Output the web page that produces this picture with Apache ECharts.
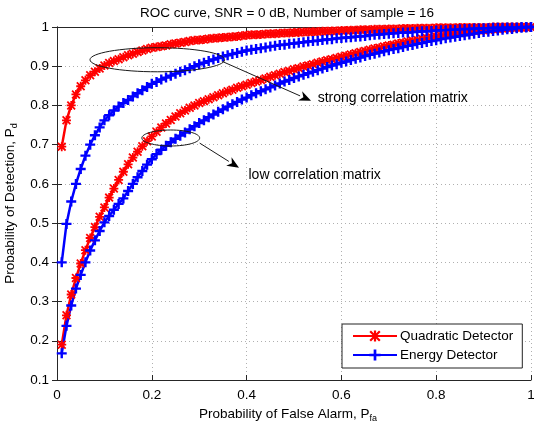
<!DOCTYPE html>
<html>
<head>
<meta charset="utf-8">
<script src="https://cdn.jsdelivr.net/npm/echarts@6/dist/echarts.min.js"></script>
<style>
html,body{margin:0;padding:0;background:#fff;}
#chart{width:534px;height:425px;}
</style>
</head>
<body>
<div id="chart"></div>
<script>
// ---------- data ----------
const pfa = [0.01,0.02,0.03,0.04,0.05,0.06,0.07,0.08,0.09,0.10,
0.11,0.12,0.13,0.14,0.15,0.16,0.17,0.18,0.19,0.20,
0.21,0.22,0.23,0.24,0.25,0.26,0.27,0.28,0.29,0.30,
0.31,0.32,0.33,0.34,0.35,0.36,0.37,0.38,0.39,0.40,
0.41,0.42,0.43,0.44,0.45,0.46,0.47,0.48,0.49,0.50,
0.51,0.52,0.53,0.54,0.55,0.56,0.57,0.58,0.59,0.60,
0.61,0.62,0.63,0.64,0.65,0.66,0.67,0.68,0.69,0.70,
0.71,0.72,0.73,0.74,0.75,0.76,0.77,0.78,0.79,0.80,
0.81,0.82,0.83,0.84,0.85,0.86,0.87,0.88,0.89,0.90,
0.91,0.92,0.93,0.94,0.95,0.96,0.97,0.98,0.99,1.00];

// Quadratic detector, strong correlation matrix
const pdQuadStrong = [0.695,0.762,0.800,0.828,0.849,0.864,0.877,0.886,0.894,0.902,
0.908,0.913,0.918,0.923,0.928,0.932,0.936,0.940,0.944,0.947,
0.949,0.951,0.953,0.956,0.958,0.960,0.962,0.964,0.966,0.967,
0.968,0.970,0.971,0.972,0.973,0.974,0.975,0.976,0.978,0.979,
0.980,0.980,0.981,0.982,0.983,0.983,0.984,0.985,0.985,0.986,
0.986,0.987,0.987,0.988,0.988,0.989,0.989,0.990,0.990,0.991,
0.991,0.992,0.992,0.993,0.993,0.993,0.994,0.994,0.994,0.995,
0.995,0.995,0.996,0.996,0.996,0.997,0.997,0.997,0.997,0.998,
0.998,0.998,0.998,0.998,0.999,0.999,0.999,0.999,0.999,0.999,
0.999,1.000,1.000,1.000,1.000,1.000,1.000,1.000,1.000,1.000];

// Energy detector, strong correlation matrix
const pdEnergyStrong = [0.400,0.498,0.555,0.600,0.638,0.672,0.700,0.724,0.744,0.762,
0.775,0.787,0.797,0.806,0.814,0.823,0.831,0.839,0.847,0.855,
0.860,0.866,0.871,0.876,0.881,0.886,0.890,0.895,0.900,0.905,
0.909,0.913,0.917,0.921,0.925,0.928,0.931,0.934,0.937,0.940,
0.942,0.944,0.946,0.948,0.950,0.952,0.954,0.955,0.957,0.958,
0.960,0.961,0.963,0.964,0.965,0.967,0.968,0.969,0.971,0.972,
0.973,0.974,0.975,0.976,0.977,0.979,0.980,0.981,0.982,0.983,
0.984,0.985,0.986,0.986,0.987,0.988,0.989,0.989,0.990,0.991,
0.992,0.992,0.993,0.993,0.994,0.995,0.995,0.996,0.996,0.997,
0.997,0.998,0.998,0.998,0.999,0.999,0.999,1.000,1.000,1.000];

// Quadratic detector, low correlation matrix
const pdQuadLow = [0.190,0.265,0.318,0.360,0.397,0.431,0.462,0.490,0.516,0.540,
0.565,0.588,0.610,0.631,0.650,0.667,0.682,0.696,0.709,0.721,
0.733,0.744,0.754,0.763,0.772,0.780,0.787,0.794,0.800,0.806,
0.811,0.816,0.821,0.826,0.831,0.836,0.840,0.845,0.849,0.853,
0.857,0.861,0.865,0.869,0.873,0.877,0.881,0.885,0.888,0.892,
0.895,0.899,0.902,0.905,0.909,0.912,0.915,0.918,0.921,0.924,
0.927,0.930,0.933,0.936,0.939,0.942,0.945,0.947,0.950,0.953,
0.955,0.958,0.960,0.963,0.965,0.967,0.970,0.972,0.974,0.976,
0.978,0.980,0.982,0.984,0.985,0.987,0.988,0.990,0.991,0.992,
0.993,0.994,0.995,0.996,0.997,0.998,0.998,0.999,0.999,1.000];

// Energy detector, low correlation matrix
const pdEnergyLow = [0.168,0.238,0.290,0.333,0.368,0.400,0.430,0.456,0.480,0.502,
0.518,0.534,0.549,0.563,0.582,0.600,0.617,0.633,0.649,0.663,
0.676,0.687,0.697,0.706,0.715,0.723,0.731,0.739,0.747,0.755,
0.762,0.770,0.777,0.784,0.790,0.797,0.803,0.809,0.815,0.820,
0.826,0.831,0.836,0.841,0.846,0.851,0.856,0.861,0.865,0.870,
0.874,0.878,0.882,0.886,0.890,0.894,0.898,0.902,0.905,0.909,
0.912,0.916,0.919,0.922,0.926,0.929,0.932,0.935,0.938,0.941,
0.944,0.946,0.949,0.952,0.954,0.957,0.959,0.962,0.964,0.966,
0.969,0.971,0.973,0.975,0.977,0.979,0.981,0.983,0.985,0.987,
0.988,0.990,0.991,0.993,0.994,0.995,0.997,0.998,0.999,1.000];

const seriesNames = ['Quadratic Detector', 'Energy Detector'];
const titleText = 'ROC curve, SNR = 0 dB, Number of sample = 16';
const xTickLabels = ['0','0.2','0.4','0.6','0.8','1'];
const yTickLabels = ['0.1','0.2','0.3','0.4','0.5','0.6','0.7','0.8','0.9','1'];
const noteStrong = 'strong correlation matrix';
const noteLow = 'low correlation matrix';

// ---------- chart ----------
const FONT = '"Liberation Sans", Arial, sans-serif';
const FS = 13.5;
const RED = '#ff0000', BLUE = '#0000ff';
const plusPath = 'path://M3.8,0h2.4v3.8h3.8v2.4h-3.8v3.8h-2.4v-3.8h-3.8v-2.4h3.8z';
const starPath = 'path://M4,0h2v4h4v2h-4v4h-2v-4h-4v-2h4z' +
  'M1.4,0L10,8.6L8.6,10L0,1.4z M8.6,0L10,1.4L1.4,10L0,8.6z';

function pairs(ys){ return pfa.map((x,i)=>[x, ys[i]]); }

const chart = echarts.init(document.getElementById('chart'), null, {renderer:'canvas'});

const fmtX = v => { const i = Math.round(v/0.2); return xTickLabels[i] !== undefined ? xTickLabels[i] : ''; };
const fmtY = v => { const i = Math.round(v*10) - 1; return yTickLabels[i] !== undefined ? yTickLabels[i] : ''; };

function mkSeries(name, ys, color, sym, size){
  return {
    name: name, type: 'line', data: pairs(ys),
    symbol: sym, symbolSize: size, showSymbol: true,
    lineStyle: {color: color, width: 2.5},
    itemStyle: {color: color},
    emphasis: {disabled: true},
    animation: false
  };
}

const axisLine = {show: true, lineStyle: {color: '#262626', width: 1}};
const tick = {show: true, inside: true, length: 5, lineStyle: {color: '#262626'}};
const split = {show: true, lineStyle: {color: '#b0b0b0', type: [1, 3], width: 1}};
const option = {
  animation: false,
  backgroundColor: '#fff',
  textStyle: {fontFamily: FONT},
  grid: {left: 57, right: 3, top: 27, bottom: 45, containLabel: false, outerBoundsMode: 'none'},
  legend: {
    orient: 'vertical', left: 342, top: 324,
    data: seriesNames,
    backgroundColor: '#fff', borderColor: '#222', borderWidth: 1,
    padding: [5, 9, 6, 10], itemGap: 5, itemWidth: 44, itemHeight: 14,
    textStyle: {fontFamily: FONT, fontSize: FS, color: '#000', padding: [0,0,0,-2]}
  },
  xAxis: [{
    type: 'value', min: 0, max: 1, interval: 0.2,
    axisLine: axisLine, axisTick: tick,
    axisLabel: {formatter: fmtX, color: '#000', fontSize: FS, margin: 8, fontFamily: FONT},
    splitLine: split,
    name: 'Probability of False Alarm, P{sub|fa}',
    nameLocation: 'middle', nameGap: 22,
    nameTextStyle: {fontFamily: FONT, fontSize: FS, color: '#000', padding: [0, 12, 0, 0],
      rich: {sub: {fontSize: 9, fontFamily: FONT, color: '#000', padding: [10,0,0,0]}}}
  },{
    type: 'value', min: 0, max: 1, interval: 0.2, position: 'top',
    axisLine: axisLine, axisTick: tick,
    axisLabel: {show: false}, splitLine: {show: false}
  }],
  yAxis: [{
    type: 'value', min: 0.1, max: 1, interval: 0.1,
    axisLine: axisLine, axisTick: tick,
    axisLabel: {formatter: fmtY, color: '#000', fontSize: FS, margin: 8, fontFamily: FONT},
    splitLine: split,
    name: 'Probability of Detection, P{sub|d}',
    nameLocation: 'middle', nameGap: 34, nameRotate: 90,
    nameTextStyle: {fontFamily: FONT, fontSize: FS, color: '#000',
      rich: {sub: {fontSize: 9, fontFamily: FONT, color: '#000', padding: [10,0,0,0]}}}
  },{
    type: 'value', min: 0.1, max: 1, interval: 0.1, position: 'right',
    axisLine: axisLine, axisTick: tick,
    axisLabel: {show: false}, splitLine: {show: false}
  }],
  series: [
    mkSeries(seriesNames[0], pdQuadStrong, RED, starPath, 9),
    mkSeries(seriesNames[0], pdQuadLow, RED, starPath, 9),
    mkSeries(seriesNames[1], pdEnergyStrong, BLUE, plusPath, 10),
    mkSeries(seriesNames[1], pdEnergyLow, BLUE, plusPath, 10)
  ]
};
chart.setOption(option);

// ---------- annotations (anchored in data coordinates) ----------
function px(x, y){ return chart.convertToPixel({gridIndex: 0}, [x, y]); }
function ellipseAt(cx, cy, rxData, ryData){
  const c = px(cx, cy), e = px(cx + rxData, cy + ryData);
  return {type: 'ellipse', shape: {cx: c[0], cy: c[1], rx: Math.abs(e[0]-c[0]), ry: Math.abs(e[1]-c[1])},
    style: {fill: 'none', stroke: '#1a1a1a', lineWidth: 1}, z: 100, silent: true};
}
function arrowAt(x1, y1, x2, y2){
  const a = px(x1, y1), b = px(x2, y2);
  const dx = b[0]-a[0], dy = b[1]-a[1], L = Math.hypot(dx, dy);
  const ux = dx/L, uy = dy/L, hl = 12, hw = 5;
  const bx = b[0]-ux*hl, by = b[1]-uy*hl;
  return [
    {type: 'line', shape: {x1: a[0], y1: a[1], x2: bx, y2: by},
      style: {stroke: '#1a1a1a', lineWidth: 1}, z: 100, silent: true},
    {type: 'polygon', shape: {points: [[b[0], b[1]], [bx - uy*hw, by + ux*hw], [b[0]-ux*hl*0.7, b[1]-uy*hl*0.7], [bx + uy*hw, by - ux*hw]]},
      style: {fill: '#000'}, z: 100, silent: true}
  ];
}
function textAt(x, y, txt){
  const p = px(x, y);
  return {type: 'text', x: p[0], y: p[1], z: 100, silent: true,
    style: {text: txt, fill: '#000', font: '14px ' + FONT, textVerticalAlign: 'middle'}};
}
const gridRect = [px(0, 1), px(1, 0.1)];
const g = [];
g.push({type: 'text', x: (gridRect[0][0] + gridRect[1][0]) / 2 - 7, y: 13, silent: true,
  style: {text: titleText, fill: '#000', font: FS + 'px ' + FONT, textAlign: 'center', textVerticalAlign: 'middle'}});
g.push(ellipseAt(0.2116, 0.9165, 0.142, 0.0307));
g.push(...arrowAt(0.349, 0.912, 0.536, 0.812));
g.push(textAt(0.550, 0.818, noteStrong));
g.push(ellipseAt(0.240, 0.717, 0.061, 0.0204));
g.push(...arrowAt(0.301, 0.704, 0.384, 0.641));
g.push(textAt(0.404, 0.623, noteLow));
chart.setOption({graphic: {elements: g}});
</script>
</body>
</html>
